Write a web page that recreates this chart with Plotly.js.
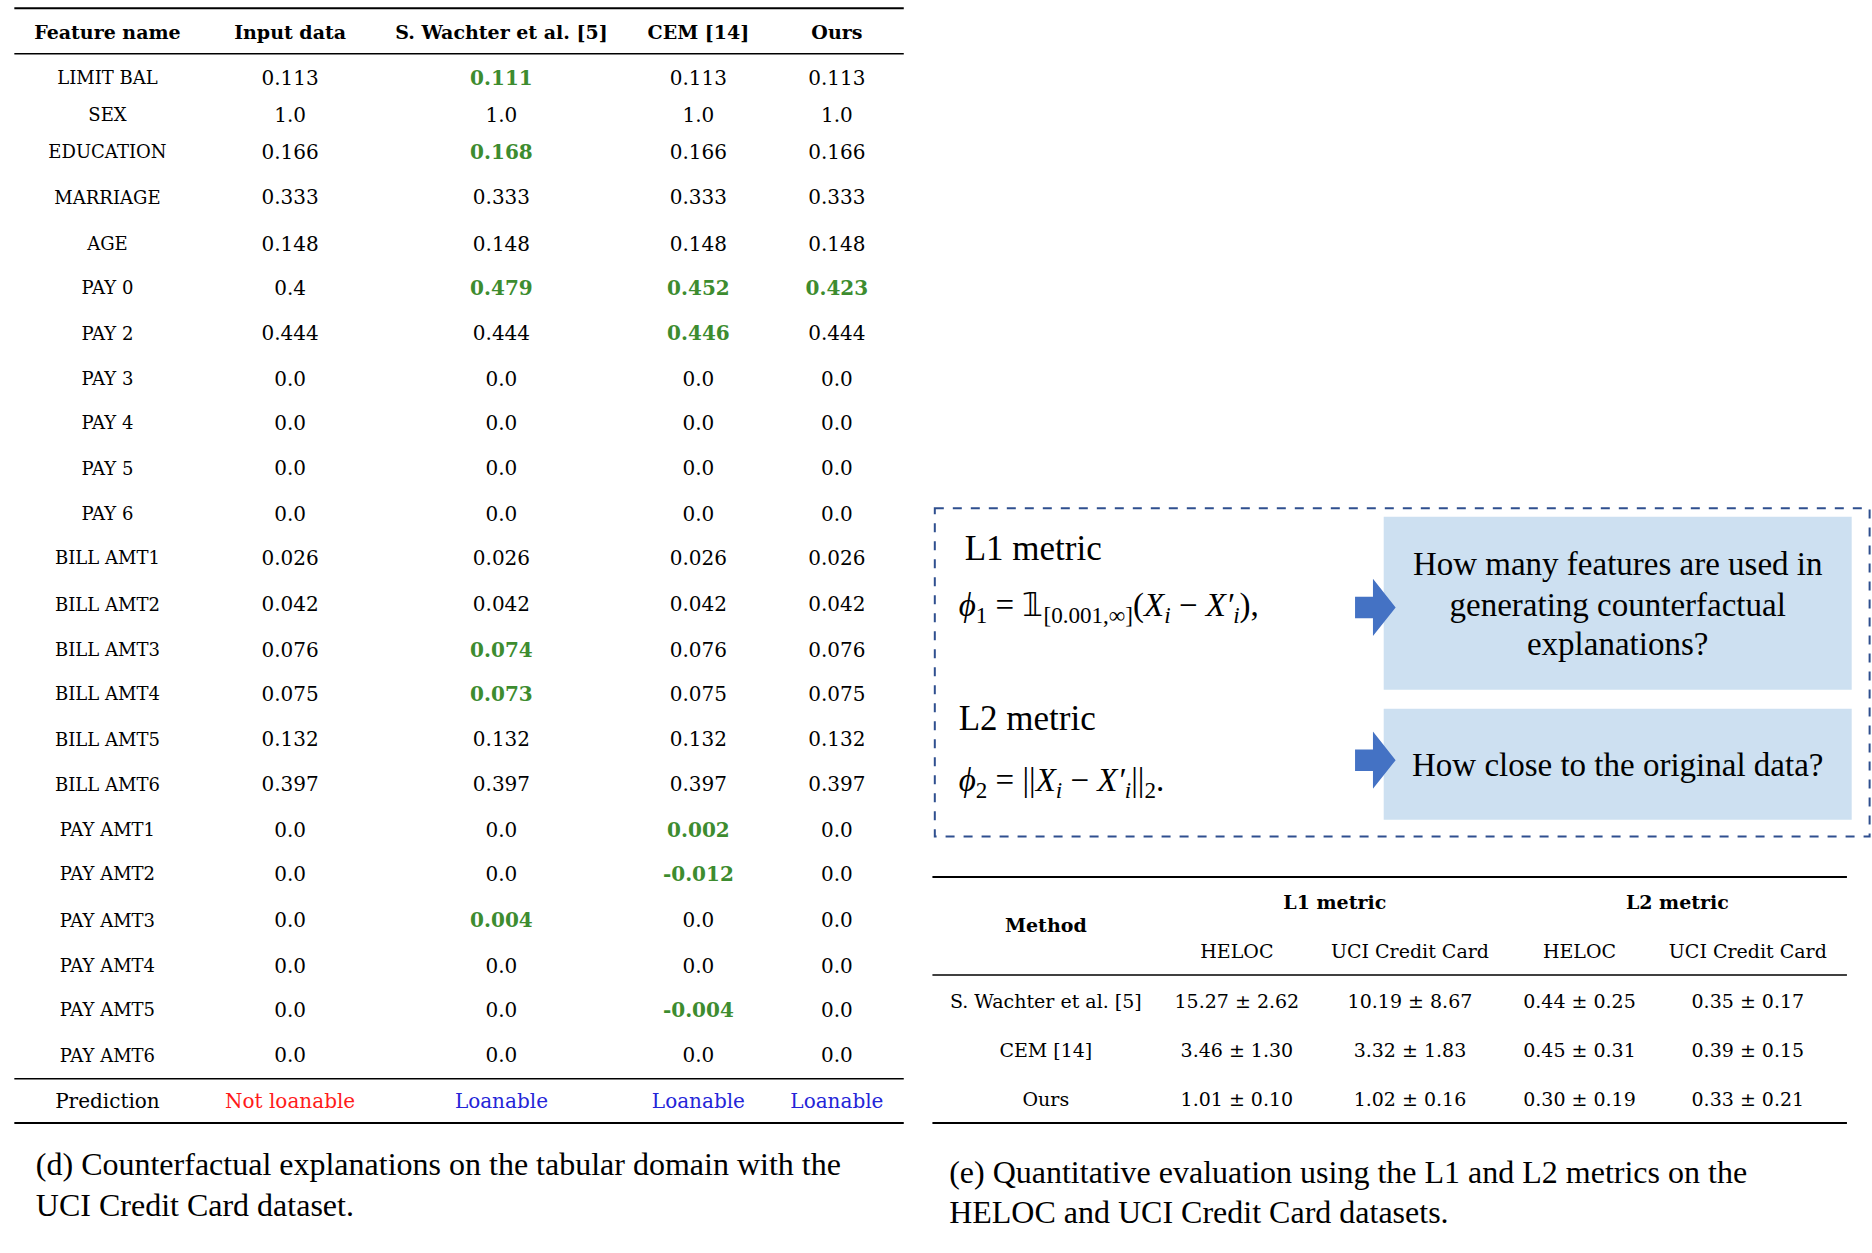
<!DOCTYPE html>
<html><head><meta charset="utf-8">
<script src="https://cdn.plot.ly/plotly-3.0.1.min.js"></script>
<style>body{margin:0;background:#fff}</style>
</head><body><div id="plot" style="width:1872px;height:1253px"></div>
<script>
// left table data
var headers = ['Feature name', 'Input data', 'S. Wachter et al. [5]', 'CEM [14]', 'Ours'];
var features = ['LIMIT BAL','SEX','EDUCATION','MARRIAGE','AGE','PAY 0','PAY 2','PAY 3','PAY 4','PAY 5','PAY 6',
   'BILL AMT1','BILL AMT2','BILL AMT3','BILL AMT4','BILL AMT5','BILL AMT6',
   'PAY AMT1','PAY AMT2','PAY AMT3','PAY AMT4','PAY AMT5','PAY AMT6'];
var inputData = ['0.113','1.0','0.166','0.333','0.148','0.4','0.444','0.0','0.0','0.0','0.0','0.026','0.042','0.076','0.075','0.132','0.397','0.0','0.0','0.0','0.0','0.0','0.0'];
var wachter = ['0.111','1.0','0.168','0.333','0.148','0.479','0.444','0.0','0.0','0.0','0.0','0.026','0.042','0.074','0.073','0.132','0.397','0.0','0.0','0.004','0.0','0.0','0.0'];
var cem = ['0.113','1.0','0.166','0.333','0.148','0.452','0.446','0.0','0.0','0.0','0.0','0.026','0.042','0.076','0.075','0.132','0.397','0.002','-0.012','0.0','0.0','-0.004','0.0'];
var ours = ['0.113','1.0','0.166','0.333','0.148','0.423','0.444','0.0','0.0','0.0','0.0','0.026','0.042','0.076','0.075','0.132','0.397','0.0','0.0','0.0','0.0','0.0','0.0'];
var predictions = ['Not loanable','Loanable','Loanable','Loanable'];

// right table data
var methods = ['S. Wachter et al. [5]','CEM [14]','Ours'];
var l1Heloc = ['15.27 ± 2.62','3.46 ± 1.30','1.01 ± 0.10'];
var l1Uci = ['10.19 ± 8.67','3.32 ± 1.83','1.02 ± 0.16'];
var l2Heloc = ['0.44 ± 0.25','0.45 ± 0.31','0.30 ± 0.19'];
var l2Uci = ['0.35 ± 0.17','0.39 ± 0.15','0.33 ± 0.21'];

var rowY = [67,98,129,167,206,243,281,319,356,394,432,469,508,546,583,621,659,697,734,773,811,848,886];
var colX = [90,243,420,585,701];
var serif = 'DejaVu Serif';
var times = 'Liberation Serif';
var green = '#3d8c2f';

var traces = [];
function txt(x, y, t, size, color, family, anchor) {
   traces.push({x: x, y: y, text: t, mode: 'text', type: 'scatter', hoverinfo: 'none',
      textposition: anchor || 'middle center',
      textfont: {family: family || serif, size: size, color: color || '#000'}});
}
// header
txt(colX, colX.map(function(){return 29;}), headers.map(function(h){return '<b>'+h+'</b>';}), 19);
txt(rowY.map(function(){return colX[0];}), rowY, features, 18);
txt(rowY.map(function(){return colX[1];}), rowY, inputData, 20);
[wachter, cem, ours].forEach(function(col, k) {
   txt(rowY.map(function(){return colX[k+2];}), rowY,
      col.map(function(v, i){ return v !== inputData[i] ? '<b>'+v+'</b>' : v; }), 20,
      col.map(function(v, i){ return v !== inputData[i] ? green : '#000'; }));
});
txt([colX[0]], [924], ['Prediction'], 20);
txt(colX.slice(1), [924,924,924,924], predictions, 20, ['#ff1a1a','#2424d8','#2424d8','#2424d8']);
txt([30,30], [978,1012], ['(d) Counterfactual explanations on the tabular domain with the','UCI Credit Card dataset.'], 32, '#000', times, 'middle right');

// metric box
txt([808,803], [462,604], ['L1 metric','L2 metric'], 35, '#000', times, 'middle right');
txt([803,803], [509,656], ['<i>ϕ</i><sub>1</sub> = 𝟙<sub>[0.001,∞]</sub>(<i>X<sub>i</sub></i> − <i>X′<sub>i</sub></i>),',
   '<i>ϕ</i><sub>2</sub> = ||<i>X<sub>i</sub></i> − <i>X′<sub>i</sub></i>||<sub>2</sub>.'], 33, '#000', times, 'middle right');
txt([1355,1355,1355,1355], [475,509,542,643], ['How many features are used in','generating counterfactual','explanations?','How close to the original data?'], 33, '#000', times);

// right table
txt([876,1118,1405], [777,758,758], ['<b>Method</b>','<b>L1 metric</b>','<b>L2 metric</b>'], 19);
txt([1036,1181,1323,1464], [799,799,799,799], ['HELOC','UCI Credit Card','HELOC','UCI Credit Card'], 19);
var ry = [841,882,923];
txt([876,876,876], ry, methods, 19);
txt([1036,1036,1036], ry, l1Heloc, 19);
txt([1181,1181,1181], ry, l1Uci, 19);
txt([1323,1323,1323], ry, l2Heloc, 19);
txt([1464,1464,1464], ry, l2Uci, 19);
txt([795,795], [985,1018], ['(e) Quantitative evaluation using the L1 and L2 metrics on the','HELOC and UCI Credit Card datasets.'], 32, '#000', times, 'middle right');

function hline(x0, x1, y, w) {
   return {type:'line', xref:'x', yref:'y', x0:x0, x1:x1, y0:y, y1:y, line:{color:'#000', width:w}};
}
var arrow = function(y) {
   return {type:'path', xref:'x', yref:'y', fillcolor:'#4472c4', line:{width:0},
      path:'M1135,'+(y-9)+' L1150,'+(y-9)+' L1150,'+(y-24)+' L1169,'+y+' L1150,'+(y+24)+' L1150,'+(y+9)+' L1135,'+(y+9)+' Z'};
};
var shapes = [
   hline(12,757,7,2), hline(12,757,45,1.5), hline(12,757,904,1.5), hline(12,757,941,2),
   hline(781,1547,735,2), hline(781,1547,817,1.5), hline(781,1547,941,2),
   {type:'rect', xref:'x', yref:'y', x0:1159, x1:1551, y0:433, y1:578, fillcolor:'#cde0f1', line:{width:0}, layer:'below'},
   {type:'rect', xref:'x', yref:'y', x0:1159, x1:1551, y0:594, y1:687, fillcolor:'#cde0f1', line:{width:0}, layer:'below'},
   {type:'rect', xref:'x', yref:'y', x0:783, x1:1566, y0:426, y1:701, line:{color:'#2f4f8f', width:2, dash:'dash'}},
   arrow(509), arrow(637)
];

Plotly.newPlot('plot', traces, {
   width:1872, height:1253, showlegend:false,
   margin:{l:0, r:0, t:0, b:0},
   paper_bgcolor:'#fff', plot_bgcolor:'#fff',
   xaxis:{range:[0,1568], visible:false, fixedrange:true},
   yaxis:{range:[1050,0], visible:false, fixedrange:true},
   shapes: shapes
}, {staticPlot:true});
</script></body></html>
